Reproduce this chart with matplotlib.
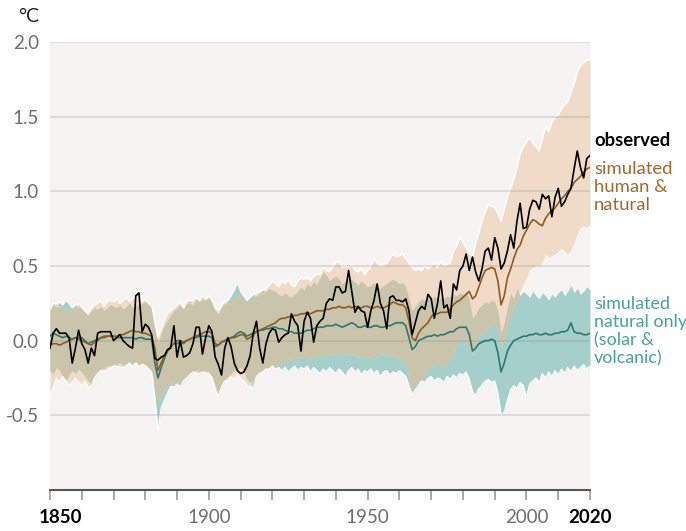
import matplotlib
matplotlib.use("Agg")
import matplotlib.pyplot as plt
import matplotlib.transforms as mtransforms
import numpy as np

plt.rcParams['font.family'] = ['Lato', 'DejaVu Sans']

years = list(range(1850, 2021))

# observed global surface temperature change (°C, relative to 1850-1900)
observed = [
    -0.05, 0.05, 0.08, 0.05, 0.05, 0.05, 0.02, -0.15, -0.05, 0.07,
    -0.02, -0.06, -0.15, -0.05, -0.10, 0.05, 0.06, 0.06, 0.06, 0.06,
    0.00, 0.02, 0.04, 0.00, -0.02, -0.04, -0.05, 0.30, 0.32, 0.06,
    0.11, 0.09, 0.04, -0.12, -0.13, -0.11, -0.10, -0.06, -0.05, 0.10,
    -0.11, 0.00, -0.11, -0.10, -0.08, -0.02, 0.09, 0.09, -0.09, 0.02,
    0.10, 0.06, -0.11, -0.16, -0.23, -0.05, 0.02, -0.04, -0.15, -0.20,
    -0.22, -0.21, -0.17, -0.10, 0.05, 0.13, -0.05, -0.15, -0.02, 0.05,
    0.08, 0.07, -0.01, 0.02, 0.04, 0.05, 0.18, 0.13, 0.10, -0.07,
    0.13, 0.19, 0.15, -0.01, 0.10, 0.13, 0.15, 0.25, 0.28, 0.27,
    0.36, 0.36, 0.32, 0.33, 0.47, 0.33, 0.19, 0.23, 0.20, 0.19,
    0.09, 0.20, 0.27, 0.38, 0.25, 0.20, 0.08, 0.29, 0.30, 0.27,
    0.27, 0.26, 0.28, 0.20, 0.04, 0.12, 0.20, 0.23, 0.21, 0.31,
    0.28, 0.15, 0.25, 0.40, 0.22, 0.24, 0.15, 0.38, 0.34, 0.47,
    0.50, 0.58, 0.47, 0.56, 0.46, 0.40, 0.48, 0.60, 0.62, 0.54,
    0.69, 0.62, 0.48, 0.52, 0.60, 0.71, 0.62, 0.80, 0.92, 0.75,
    0.76, 0.88, 0.94, 0.93, 0.88, 0.98, 0.95, 0.97, 0.83, 0.96,
    1.02, 0.90, 0.93, 0.98, 1.02, 1.15, 1.27, 1.16, 1.09, 1.22,
    1.24,
]

# simulated human & natural: mean and very likely range
human_mean = [
    -0.03, -0.02, -0.02, -0.03, -0.02, -0.01, 0.00, 0.01, 0.02, 0.01,
    0.00, -0.01, -0.02, -0.03, -0.01, 0.00, 0.02, 0.03, 0.03, 0.03,
    0.03, 0.03, 0.04, 0.04, 0.05, 0.06, 0.07, 0.06, 0.06, 0.05,
    0.05, 0.04, 0.03, -0.05, -0.20, -0.15, -0.10, -0.07, -0.04, -0.02,
    -0.02, -0.01, -0.02, 0.00, 0.01, 0.02, 0.03, 0.04, 0.05, 0.06,
    0.06, 0.05, -0.02, -0.03, -0.01, 0.00, 0.01, 0.02, 0.02, 0.03,
    0.04, 0.04, 0.01, 0.02, 0.04, 0.06, 0.07, 0.08, 0.09, 0.10,
    0.11, 0.12, 0.14, 0.15, 0.15, 0.16, 0.16, 0.17, 0.17, 0.18,
    0.18, 0.19, 0.18, 0.19, 0.20, 0.20, 0.20, 0.21, 0.21, 0.22,
    0.22, 0.23, 0.22, 0.22, 0.23, 0.22, 0.23, 0.22, 0.22, 0.23,
    0.23, 0.22, 0.22, 0.23, 0.22, 0.22, 0.23, 0.24, 0.26, 0.25,
    0.24, 0.24, 0.22, 0.13, 0.02, 0.00, 0.05, 0.08, 0.10, 0.12,
    0.16, 0.18, 0.18, 0.19, 0.19, 0.19, 0.21, 0.24, 0.26, 0.27,
    0.29, 0.31, 0.33, 0.28, 0.30, 0.36, 0.42, 0.47, 0.48, 0.49,
    0.48, 0.40, 0.24, 0.30, 0.42, 0.48, 0.55, 0.61, 0.64, 0.70,
    0.74, 0.78, 0.81, 0.80, 0.78, 0.77, 0.82, 0.85, 0.87, 0.89,
    0.92, 0.95, 0.97, 1.00, 1.02, 1.06, 1.08, 1.10, 1.13, 1.15,
    1.16,
]
human_hi = [
    0.22, 0.24, 0.25, 0.22, 0.24, 0.20, 0.21, 0.19, 0.22, 0.25,
    0.23, 0.20, 0.18, 0.22, 0.24, 0.25, 0.27, 0.23, 0.26, 0.27,
    0.26, 0.28, 0.25, 0.27, 0.29, 0.26, 0.28, 0.30, 0.27, 0.26,
    0.28, 0.25, 0.24, 0.12, 0.02, 0.08, 0.14, 0.18, 0.20, 0.22,
    0.24, 0.26, 0.22, 0.27, 0.25, 0.27, 0.29, 0.27, 0.30, 0.28,
    0.30, 0.27, 0.22, 0.20, 0.24, 0.26, 0.25, 0.28, 0.27, 0.30,
    0.31, 0.28, 0.26, 0.27, 0.29, 0.32, 0.33, 0.31, 0.35, 0.37,
    0.40, 0.38, 0.36, 0.40, 0.38, 0.41, 0.37, 0.36, 0.40, 0.42,
    0.41, 0.42, 0.40, 0.43, 0.45, 0.44, 0.49, 0.47, 0.46, 0.50,
    0.52, 0.53, 0.49, 0.50, 0.49, 0.51, 0.47, 0.46, 0.48, 0.44,
    0.47, 0.50, 0.55, 0.52, 0.50, 0.51, 0.52, 0.55, 0.58, 0.56,
    0.57, 0.58, 0.55, 0.52, 0.49, 0.47, 0.48, 0.47, 0.50, 0.48,
    0.50, 0.52, 0.49, 0.53, 0.50, 0.51, 0.52, 0.60, 0.63, 0.69,
    0.66, 0.62, 0.58, 0.56, 0.65, 0.72, 0.80, 0.86, 0.91, 0.90,
    0.89, 0.85, 0.80, 0.88, 0.96, 1.02, 1.08, 1.16, 1.25, 1.30,
    1.33, 1.36, 1.32, 1.30, 1.27, 1.35, 1.43, 1.40, 1.46, 1.50,
    1.51, 1.55, 1.58, 1.60, 1.66, 1.72, 1.80, 1.84, 1.86, 1.88,
    1.88,
]
human_lo = [
    -0.36, -0.32, -0.25, -0.28, -0.24, -0.27, -0.30, -0.28, -0.25, -0.28,
    -0.30, -0.27, -0.31, -0.29, -0.24, -0.22, -0.20, -0.18, -0.20, -0.17,
    -0.17, -0.15, -0.18, -0.16, -0.17, -0.14, -0.16, -0.15, -0.18, -0.16,
    -0.17, -0.19, -0.22, -0.30, -0.42, -0.38, -0.33, -0.30, -0.31, -0.26,
    -0.28, -0.31, -0.27, -0.24, -0.22, -0.20, -0.22, -0.19, -0.20, -0.22,
    -0.21, -0.25, -0.33, -0.37, -0.30, -0.26, -0.27, -0.24, -0.26, -0.23,
    -0.25, -0.27, -0.30, -0.31, -0.26, -0.24, -0.20, -0.21, -0.18, -0.19,
    -0.17, -0.16, -0.18, -0.14, -0.15, -0.12, -0.13, -0.15, -0.11, -0.12,
    -0.10, -0.12, -0.13, -0.10, -0.12, -0.09, -0.10, -0.11, -0.08, -0.10,
    -0.08, -0.09, -0.11, -0.09, -0.08, -0.10, -0.09, -0.12, -0.10, -0.11,
    -0.10, -0.12, -0.09, -0.11, -0.10, -0.08, -0.11, -0.09, -0.10, -0.12,
    -0.11, -0.13, -0.15, -0.25, -0.33, -0.31, -0.27, -0.26, -0.22, -0.20,
    -0.16, -0.18, -0.15, -0.17, -0.18, -0.14, -0.12, -0.08, -0.03, 0.02,
    0.00, -0.02, -0.05, -0.10, -0.04, 0.03, 0.06, 0.05, 0.09, 0.10,
    0.12, 0.06, -0.05, 0.00, 0.10, 0.18, 0.22, 0.27, 0.33, 0.38,
    0.42, 0.48, 0.49, 0.51, 0.50, 0.53, 0.58, 0.56, 0.57, 0.58,
    0.60, 0.62, 0.60, 0.58, 0.61, 0.66, 0.72, 0.76, 0.77, 0.76,
    0.78,
]

# simulated natural only (solar & volcanic): mean and very likely range
natural_mean = [
    0.03, 0.05, 0.04, 0.03, 0.02, 0.03, 0.02, 0.01, 0.02, 0.02,
    0.02, 0.00, -0.02, -0.01, 0.00, 0.01, 0.02, 0.02, 0.03, 0.03,
    0.03, 0.02, 0.02, 0.02, 0.02, 0.02, 0.02, 0.01, 0.02, 0.02,
    0.01, 0.01, 0.01, -0.15, -0.25, -0.18, -0.12, -0.07, -0.04, -0.02,
    0.00, 0.00, -0.01, 0.00, 0.01, 0.02, 0.02, 0.03, 0.03, 0.03,
    0.03, 0.02, -0.04, -0.03, -0.01, 0.00, 0.01, 0.02, 0.03, 0.05,
    0.06, 0.05, 0.03, 0.04, 0.05, 0.06, 0.07, 0.07, 0.08, 0.08,
    0.09, 0.09, 0.08, 0.08, 0.07, 0.06, 0.06, 0.05, 0.05, 0.05,
    0.06, 0.07, 0.07, 0.08, 0.09, 0.09, 0.09, 0.10, 0.10, 0.10,
    0.11, 0.10, 0.09, 0.10, 0.11, 0.12, 0.11, 0.09, 0.09, 0.10,
    0.09, 0.09, 0.10, 0.10, 0.09, 0.09, 0.10, 0.10, 0.11, 0.12,
    0.12, 0.12, 0.10, 0.02, -0.06, -0.04, 0.00, 0.01, 0.02, 0.03,
    0.03, 0.04, 0.03, 0.04, 0.04, 0.05, 0.06, 0.06, 0.08, 0.09,
    0.09, 0.09, 0.04, -0.07, -0.05, -0.02, -0.01, 0.00, 0.00, 0.01,
    0.00, -0.08, -0.21, -0.15, -0.07, -0.03, 0.00, 0.01, 0.02, 0.03,
    0.03, 0.04, 0.04, 0.05, 0.04, 0.04, 0.05, 0.04, 0.04, 0.05,
    0.05, 0.06, 0.06, 0.07, 0.12, 0.06, 0.05, 0.05, 0.04, 0.04,
    0.05,
]
natural_hi = [
    0.20, 0.25, 0.23, 0.26, 0.24, 0.27, 0.25, 0.22, 0.24, 0.23,
    0.21, 0.19, 0.17, 0.20, 0.22, 0.21, 0.23, 0.20, 0.22, 0.24,
    0.23, 0.22, 0.24, 0.21, 0.23, 0.25, 0.22, 0.24, 0.23, 0.25,
    0.26, 0.24, 0.22, 0.10, -0.02, 0.05, 0.10, 0.14, 0.17, 0.20,
    0.22, 0.24, 0.21, 0.25, 0.27, 0.24, 0.28, 0.26, 0.28, 0.27,
    0.29, 0.26, 0.20, 0.18, 0.22, 0.25, 0.27, 0.30, 0.34, 0.39,
    0.33, 0.30, 0.27, 0.29, 0.31, 0.30, 0.32, 0.34, 0.33, 0.35,
    0.34, 0.33, 0.31, 0.30, 0.32, 0.30, 0.29, 0.31, 0.33, 0.36,
    0.34, 0.38, 0.36, 0.40, 0.37, 0.42, 0.46, 0.44, 0.40, 0.42,
    0.43, 0.41, 0.38, 0.40, 0.42, 0.41, 0.39, 0.37, 0.40, 0.38,
    0.36, 0.37, 0.39, 0.36, 0.35, 0.37, 0.38, 0.40, 0.41, 0.40,
    0.38, 0.39, 0.36, 0.28, 0.20, 0.23, 0.26, 0.28, 0.27, 0.29,
    0.28, 0.30, 0.27, 0.29, 0.28, 0.30, 0.29, 0.31, 0.30, 0.32,
    0.31, 0.33, 0.28, 0.15, 0.18, 0.22, 0.24, 0.26, 0.25, 0.27,
    0.26, 0.20, 0.05, 0.12, 0.22, 0.32, 0.28, 0.35, 0.30, 0.33,
    0.31, 0.29, 0.33, 0.30, 0.28, 0.32, 0.30, 0.27, 0.31, 0.29,
    0.32, 0.34, 0.30, 0.33, 0.37, 0.32, 0.35, 0.31, 0.33, 0.36,
    0.34,
]
natural_lo = [
    -0.20, -0.22, -0.18, -0.20, -0.24, -0.27, -0.23, -0.20, -0.22, -0.19,
    -0.21, -0.24, -0.27, -0.31, -0.25, -0.22, -0.19, -0.20, -0.17, -0.18,
    -0.16, -0.17, -0.15, -0.18, -0.16, -0.15, -0.17, -0.14, -0.16, -0.15,
    -0.16, -0.18, -0.20, -0.38, -0.60, -0.45, -0.40, -0.35, -0.30, -0.31,
    -0.29, -0.31, -0.27, -0.25, -0.23, -0.21, -0.20, -0.22, -0.21, -0.20,
    -0.22, -0.24, -0.30, -0.37, -0.31, -0.27, -0.24, -0.22, -0.20, -0.19,
    -0.18, -0.20, -0.26, -0.28, -0.32, -0.24, -0.22, -0.20, -0.19, -0.18,
    -0.17, -0.19, -0.18, -0.20, -0.18, -0.21, -0.19, -0.17, -0.20, -0.18,
    -0.19, -0.17, -0.21, -0.18, -0.20, -0.22, -0.19, -0.21, -0.18, -0.20,
    -0.22, -0.19, -0.21, -0.24, -0.20, -0.18, -0.21, -0.19, -0.23, -0.20,
    -0.21, -0.19, -0.22, -0.20, -0.24, -0.21, -0.20, -0.23, -0.21, -0.22,
    -0.20, -0.22, -0.24, -0.30, -0.36, -0.33, -0.30, -0.27, -0.28, -0.25,
    -0.24, -0.27, -0.25, -0.26, -0.28, -0.24, -0.26, -0.23, -0.25, -0.22,
    -0.23, -0.21, -0.26, -0.34, -0.37, -0.32, -0.30, -0.27, -0.26, -0.28,
    -0.27, -0.35, -0.50, -0.48, -0.40, -0.33, -0.30, -0.32, -0.28, -0.30,
    -0.38, -0.29, -0.27, -0.25, -0.28, -0.22, -0.25, -0.21, -0.24, -0.20,
    -0.23, -0.19, -0.22, -0.18, -0.21, -0.17, -0.20, -0.18, -0.16, -0.19,
    -0.17,
]

major_ticks = [1850, 1900, 1950, 2000, 2020]
y_ticks = [-0.5, 0.0, 0.5, 1.0, 1.5, 2.0]
y_labels = ["-0.5", "0.0", "0.5", "1.0", "1.5", "2.0"]

# --- colours ---
c_bg = '#f5f4f2'
c_human_band = '#f0dbc8'
c_nat_band = '#a5cfcb'
c_overlap = '#c9c4aa'
c_human_line = '#8e5c1f'
c_nat_line = '#2b7a72'
c_human_text = '#a06a2c'
c_nat_text = '#4aa19b'

fig = plt.figure(figsize=(6.86, 5.31), dpi=100)
ax = fig.add_axes([50 / 686, 41 / 531, 540 / 686, 448 / 531])
ax.set_facecolor(c_bg)

# bands: each range, then the part where the two ranges overlap
h_lo, h_hi = np.array(human_lo), np.array(human_hi)
n_lo, n_hi = np.array(natural_lo), np.array(natural_hi)
ov_lo, ov_hi = np.maximum(h_lo, n_lo), np.minimum(h_hi, n_hi)
ax.fill_between(years, n_lo, n_hi, color=c_nat_band, lw=0, zorder=2)
ax.fill_between(years, h_lo, h_hi, color=c_human_band, lw=0, zorder=2.1)
ax.fill_between(years, ov_lo, ov_hi, where=ov_hi > ov_lo, interpolate=True,
                color=c_overlap, lw=0, zorder=2.2)
# thin white outline round the shaded area
ax.plot(years, np.maximum(h_hi, n_hi), color='white', lw=0.9, zorder=2.3)
ax.plot(years, np.minimum(h_lo, n_lo), color='white', lw=0.9, zorder=2.3)

# gridlines faintly visible through the bands
for yv in y_ticks:
    ax.axhline(yv, color='#8c8c8c', alpha=0.28, lw=1.2, zorder=2.5)

# lines
ax.plot(years, natural_mean, color=c_nat_line, lw=1.2, zorder=4)
ax.plot(years, human_mean, color=c_human_line, lw=1.2, zorder=5)
ax.plot(years, observed, color='black', lw=1.2, zorder=6)

# axes
ax.set_xlim(1850, 2020)
ax.set_ylim(-1.0, 2.0)
for s in ['top', 'right', 'left']:
    ax.spines[s].set_visible(False)
ax.spines['bottom'].set_color('#555555')
ax.spines['bottom'].set_linewidth(1.5)

ax.set_yticks(y_ticks)
ax.set_yticklabels(y_labels)
ax.tick_params(axis='y', length=0, pad=8, labelsize=13.5, labelcolor='#6e6e6e')

ax.set_xticks(major_ticks)
ax.set_xticklabels([str(t) for t in major_ticks])
ax.set_xticks(range(1860, 2020, 10), minor=True)
ax.tick_params(axis='x', which='both', direction='out', length=7.5, width=1.2,
               color='#9a9a9a', pad=6, labelsize=13.5, labelcolor='#6e6e6e')
shift = mtransforms.ScaledTranslation(10 / 100, 0, fig.dpi_scale_trans)
for i, lab in enumerate(ax.get_xticklabels()):
    if major_ticks[i] in (1850, 2020):
        lab.set_color('black')
        lab.set_fontweight('bold')
    if major_ticks[i] == 1850:
        lab.set_transform(lab.get_transform() + shift)
for i, tk in enumerate(ax.xaxis.get_major_ticks()):
    if major_ticks[i] in (1850, 2020):
        tk.tick1line.set_color('#333333')

# unit label
fig.text(18 / 686, 1 - 16 / 531, "°C", fontsize=14, color='#222222',
         ha='left', va='center')

# series labels
fig.text(594 / 686, 1 - 141 / 531, "observed", fontsize=13.3, fontweight='bold',
         color='black', ha='left', va='center')
fig.text(594 / 686, 1 - 161 / 531, "simulated\nhuman &\nnatural", fontsize=13.3,
         color=c_human_text, ha='left', va='top', linespacing=1.16)
fig.text(594 / 686, 1 - 296 / 531, "simulated\nnatural only\n(solar &\nvolcanic)",
         fontsize=12.9, color=c_nat_text, ha='left', va='top', linespacing=1.16)

fig.savefig("out.png", dpi=100)
